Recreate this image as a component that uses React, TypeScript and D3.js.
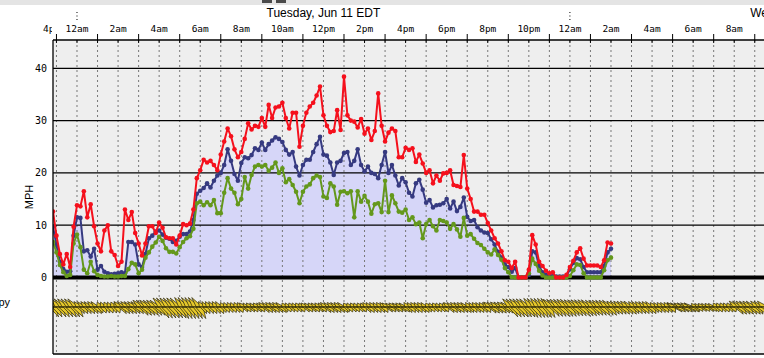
import React from 'react';
import * as d3 from 'd3';

// ---- data (10-minute observations starting 10:50pm the evening before) ----
const START_HOUR = -7 / 6;
const STEP_HOURS = 1 / 6;

const gust = [
  12.6, 8.0, 4.5, 2.5, 4.5, 2.0, 9.7,
  13.8, 13.6, 16.5, 11.5, 14.0, 9.8,
  6.5, 5.0, 9.0, 10.0, 5.0, 4.3,
  2.2, 3.0, 13.0, 11.0, 12.5, 8.5,
  6.5, 4.2, 6.5, 9.8, 9.8, 8.5,
  10.5, 9.5, 7.7, 7.5, 7.5, 6.3,
  8.0, 10.2, 10.0, 10.3, 13.0, 19.0,
  20.5, 22.5, 22.0, 22.3, 21.5, 20.5,
  23.5, 26.0, 28.5, 27.0, 24.5, 23.0,
  24.0, 26.5, 29.5, 28.3, 29.0, 28.8,
  30.5, 28.8, 33.0, 30.5, 32.5, 32.7,
  33.4, 30.5, 28.5, 31.5, 31.5, 25.0,
  29.0, 31.5, 32.7, 33.4, 34.8, 36.5,
  31.0, 29.0, 27.8, 28.0, 32.0, 28.2,
  38.4, 31.0, 30.0, 29.8, 28.7, 30.3,
  27.5, 28.5, 26.3, 28.0, 35.2, 29.0,
  26.0, 27.7, 28.5, 28.0, 23.0, 23.0,
  24.8, 24.4, 24.7, 22.1, 23.5, 21.8,
  20.0, 20.5, 18.0, 19.5, 18.5, 19.9,
  20.0, 20.5, 17.7, 17.5, 17.3, 23.4,
  17.0, 15.0, 12.6, 12.6, 12.0, 12.0,
  10.4, 9.0, 7.5, 6.5, 5.0, 3.3,
  3.0, 1.8, 3.0, 0, 0, 0,
  1.5, 8.1, 6.3, 3.0, 2.2, 1.3,
  0.8, 1.0, 0, 0, 0, 0.5,
  2.0, 3.2, 4.8, 5.6, 3.6, 2.3,
  2.3, 2.3, 2.3, 2.0, 3.3, 6.7,
  6.5,
];

const speed = [
  9.7, 6.2, 3.0, 1.6, 1.1, 1.2, 8.0,
  11.5, 11.4, 5.0, 5.2, 4.0, 5.5,
  1.5, 2.2, 1.1, 0.8, 0.6, 0.7,
  0.8, 1.0, 0.8, 6.8, 6.8, 6.3,
  2.5, 2.0, 4.5, 7.5, 8.0, 8.8,
  9.0, 8.2, 7.6, 7.4, 6.8, 7.0,
  7.8, 8.3, 8.3, 8.8, 11.0, 16.0,
  16.6, 17.1, 18.0, 17.2, 18.5, 19.5,
  20.0, 21.5, 24.5, 22.3, 19.8, 18.5,
  21.9, 23.0, 22.8, 23.4, 24.7, 24.4,
  25.8, 24.4, 25.5, 26.2, 26.8, 26.5,
  25.9, 24.4, 23.5, 24.0, 21.2, 19.5,
  21.5, 22.5, 22.5, 24.0, 25.5, 26.9,
  23.5, 23.3, 22.0, 19.6, 22.0, 22.3,
  23.8, 24.0, 21.5, 22.3, 24.5, 21.5,
  20.3, 21.2, 20.0, 19.8, 19.0, 21.5,
  24.0, 20.0, 21.5, 19.5, 17.6, 19.0,
  18.2, 16.2, 15.5, 18.0, 18.7, 16.8,
  14.3, 14.8, 13.4, 13.8, 13.9, 14.2,
  15.0, 13.2, 14.5, 12.7, 13.5, 15.3,
  11.6, 10.8, 11.0, 9.6, 9.0, 8.6,
  8.5, 7.3, 6.3, 4.9, 3.8, 2.5,
  2.0, 1.1, 1.8, 0, 0, 0,
  0.5, 5.0, 4.8, 2.2, 1.0, 0.5,
  0.3, 0.3, 0.2, 0.2, 0.2, 0.3,
  1.6, 2.8, 3.7, 3.5, 2.0, 1.0,
  1.0, 1.0, 1.0, 1.0, 2.2, 4.8,
  5.5,
];

const lull = [
  6.8, 4.8, 2.4, 1.0, 0.3, 0.5, 6.5,
  8.2, 5.8, 1.5, 0.8, 3.0, 1.2,
  0.5, 0.3, 0.2, 0.2, 0.3, 0.2,
  0.2, 0.3, 0.3, 1.6, 2.8, 2.5,
  0.8, 1.5, 3.8, 4.8, 5.9, 6.7,
  7.8, 7.0, 5.6, 4.9, 4.9, 4.6,
  5.8, 6.8, 7.5, 7.9, 9.3, 14.2,
  14.5, 13.8, 14.4, 13.8, 14.8, 12.3,
  12.3, 16.2, 19.0, 17.0, 16.2, 14.0,
  15.0, 19.2, 17.0, 19.6, 21.2, 21.5,
  21.2, 21.5, 20.4, 21.0, 22.0, 20.0,
  20.9, 18.2, 18.8, 17.7, 16.4, 14.2,
  16.4, 17.4, 17.8, 19.0, 19.5, 19.2,
  15.5, 15.2, 18.0, 17.4, 13.9, 16.4,
  16.5, 16.1, 16.5, 11.5, 16.5, 14.5,
  15.6, 14.5, 12.2, 14.0, 14.2, 12.5,
  18.5, 12.5, 15.7, 14.2, 12.6, 12.4,
  13.0, 11.0, 11.5, 10.2, 10.5, 7.5,
  10.2, 11.0, 9.8, 9.0, 11.0, 10.8,
  10.5, 9.3, 10.2, 9.2, 7.8, 11.4,
  8.0, 8.3, 7.4, 6.6, 6.2, 5.5,
  4.8, 4.4, 5.4, 4.3, 3.4, 1.8,
  1.0, 0.1, 0, 0, 0, 0,
  0.8, 3.6, 2.6, 1.3, 0.4, 0,
  0, 0, 0, 0, 0, 0,
  0.3, 1.4, 2.5, 2.4, 0.8, 0,
  0, 0, 0, 0, 1.4, 3.3,
  3.8,
];

const yTicks = [0, 10, 20, 30, 40];
const hourTickLabels = [
  '12am', '2am', '4am', '6am', '8am', '10am', '12pm', '2pm', '4pm',
  '6pm', '8pm', '10pm', '12am', '2am', '4am', '6am', '8am',
];
const dayLabels = ['Tuesday, Jun 11 EDT', 'Wednesday, Jun 12 EDT'];
const dayLabelHours = [12, 36];
const dayBreakHours = [0, 24];

// hourly wind for the barb band, hours -2 .. 33 (speed mph, direction deg)
const barbSpeed = [
  18, 18, 12, 11, 12, 15, 20, 21, 12, 10, 9, 10, 9, 9, 10, 9, 10, 9,
  10, 9, 10, 10, 11, 18, 19, 17, 16, 15, 13, 12, 10, 9, 8, 9, 13, 13,
];
const barbDir = [
  240, 250, 220, 200, 230, 250, 260, 240, 210, 200, 210, 220, 200, 210, 220, 200, 210, 220,
  210, 200, 220, 210, 230, 250, 240, 260, 250, 240, 230, 220, 210, 250, 210, 200, 240, 230,
];

const W = 764;
const H = 358;
const PLOT_L = 53;
const PLOT_T = 40;
const PLOT_B = 354;
const ZERO_Y = 277.5;
const BARB_C = 307;

export default function App() {
  const x = d3.scaleLinear().domain([-1.1685, 33.45]).range([PLOT_L, W]);
  const y = d3.scaleLinear().domain([0, 45.41]).range([ZERO_Y, PLOT_T]);
  const tOf = (i: number) => START_HOUR + i * STEP_HOURS;

  const lineGen = d3
    .line<number>()
    .x((_, i) => x(tOf(i)))
    .y((d) => y(d));
  const areaGen = d3
    .area<number>()
    .x((_, i) => x(tOf(i)))
    .y0(y(0))
    .y1((d) => y(d));

  const hours = d3.range(-1, 34);
  const series = [
    { data: speed, color: '#363a80' },
    { data: lull, color: '#64981c' },
    { data: gust, color: '#f5101c' },
  ];

  // wind barbs every 10 minutes over the full axis
  const barbTimes = d3.range(-1.2, 33.5, 1 / 6);
  const barbs: [number, number][][] = [];
  barbTimes.forEach((t, k) => {
    const idx = Math.max(0, Math.min(barbSpeed.length - 1, Math.floor(t) + 2));
    const s = barbSpeed[idx];
    const dir = barbDir[idx];
    const bx = x(t);
    const up = s * 0.45;
    const down = s * 0.55;
    const ang = ((dir - 180) * Math.PI) / 180;
    const skew = Math.sin(ang) * 9;
    const wob = k % 2 === 0 ? 1 : -1;
    barbs.push([
      [bx - 3.5, BARB_C + 0.5 * wob],
      [bx + 3.5, BARB_C - 0.5 * wob],
      [bx - skew, BARB_C - up],
    ]);
    barbs.push([
      [bx - 3.5, BARB_C - 0.5 * wob],
      [bx + 3.5, BARB_C + 0.5 * wob],
      [bx + skew * 0.8, BARB_C + down],
    ]);
  });

  const monoFont = "'DejaVu Sans Mono', monospace";

  return (
    <svg
      width={W}
      height={H}
      style={{ position: 'absolute', left: 0, top: 0, background: '#fff' }}
      fontFamily="'Liberation Sans', Arial, sans-serif"
    >
      <defs>
        <clipPath id="plotClip">
          <rect x={PLOT_L} y={PLOT_T} width={W - PLOT_L} height={PLOT_B - PLOT_T} />
        </clipPath>
        <clipPath id="leftClip">
          <rect x={0} y={0} width={PLOT_L - 1} height={H} />
        </clipPath>
      </defs>

      {/* top toolbar strip */}
      <rect x={0} y={0} width={W} height={5} fill="#e4e4e4" />
      <rect x={262} y={0} width={10} height={3} fill="#4a4a4a" />
      <rect x={276} y={0} width={10} height={3} fill="#4a4a4a" />

      {/* plot background */}
      <rect x={PLOT_L} y={PLOT_T} width={W - PLOT_L} height={PLOT_B - PLOT_T} fill="#eeeeee" />

      <g clipPath="url(#plotClip)">
        <path d={areaGen(speed) || ''} fill="#d6d6f8" />

        {/* vertical hourly dashed grid */}
        {hours.map((h) => (
          <line
            key={'vg' + h}
            x1={x(h)}
            x2={x(h)}
            y1={PLOT_T}
            y2={PLOT_B}
            stroke="#777"
            strokeWidth={1}
            strokeDasharray="2,3"
          />
        ))}
        {/* horizontal grid */}
        {yTicks
          .filter((v) => v > 0)
          .map((v) => (
            <line key={'hg' + v} x1={PLOT_L} x2={W} y1={y(v)} y2={y(v)} stroke="#000" strokeWidth={1.3} />
          ))}
        <line x1={PLOT_L} x2={W} y1={y(0)} y2={y(0)} stroke="#000" strokeWidth={4} />

        {series.map((s, si) => (
          <g key={'s' + si}>
            <path d={lineGen(s.data) || ''} fill="none" stroke={s.color} strokeWidth={2} strokeLinejoin="round" />
            {s.data.map((d, i) => (
              <circle key={i} cx={x(tOf(i))} cy={y(d)} r={2.3} fill={s.color} />
            ))}
          </g>
        ))}

        {/* wind barbs */}
        <g>
          {barbs.map((p, i) => (
            <polygon
              key={'b' + i}
              points={p.map((q) => q.join(',')).join(' ')}
              fill="#e6c82a"
              stroke="#332d0c"
              strokeWidth={0.75}
              strokeLinejoin="round"
            />
          ))}
          <line x1={PLOT_L} x2={W} y1={BARB_C} y2={BARB_C} stroke="#332d0c" strokeWidth={0.8} />
        </g>
      </g>

      {/* frame */}
      <line x1={PLOT_L} x2={PLOT_L} y1={PLOT_T} y2={PLOT_B} stroke="#000" strokeWidth={1.3} />
      <line x1={PLOT_L} x2={W} y1={PLOT_B} y2={PLOT_B} stroke="#000" strokeWidth={1.3} />
      <line x1={PLOT_L} x2={W} y1={PLOT_T} y2={PLOT_T} stroke="#000" strokeWidth={1.3} />

      {/* top axis ticks */}
      {hours.map((h) => (
        <g key={'t' + h}>
          <line x1={x(h)} x2={x(h)} y1={PLOT_T} y2={PLOT_T + 3} stroke="#000" strokeWidth={1} />
          {Math.abs(h % 2) === 1 && (
            <line x1={x(h)} x2={x(h)} y1={PLOT_T - 6} y2={PLOT_T} stroke="#000" strokeWidth={1} />
          )}
        </g>
      ))}
      {hourTickLabels.map((lab, i) => (
        <text
          key={'hl' + i}
          x={x(i * 2)}
          y={32}
          textAnchor="middle"
          fontFamily={monoFont}
          fontSize={9.5}
          fill="#000"
        >
          {lab}
        </text>
      ))}
      <text x={43} y={32} fontFamily={monoFont} fontSize={9.5} fill="#000" clipPath="url(#leftClip)">
        4pm
      </text>

      {/* day labels and day breaks */}
      {dayLabels.map((lab, i) => (
        <text key={'dl' + i} x={x(dayLabelHours[i])} y={17} textAnchor="middle" fontSize={12} fill="#000">
          {lab}
        </text>
      ))}
      {dayBreakHours.map((h) => (
        <line
          key={'db' + h}
          x1={x(h)}
          x2={x(h)}
          y1={12}
          y2={20}
          stroke="#000"
          strokeWidth={1}
          strokeDasharray="1,2.5"
        />
      ))}

      {/* y axis labels */}
      {yTicks.map((v) => (
        <text
          key={'yl' + v}
          x={47}
          y={y(v) + 3.5}
          textAnchor="end"
          fontFamily={monoFont}
          fontSize={10}
          fill="#000"
        >
          {v}
        </text>
      ))}
      <text
        transform={`translate(33,${(y(10) + y(20)) / 2 - 2}) rotate(-90)`}
        textAnchor="middle"
        fontSize={11}
        fill="#000"
      >
        MPH
      </text>
      <text x={10} y={306} textAnchor="end" fontSize={11} fill="#000">
        Canopy
      </text>
    </svg>
  );
}
